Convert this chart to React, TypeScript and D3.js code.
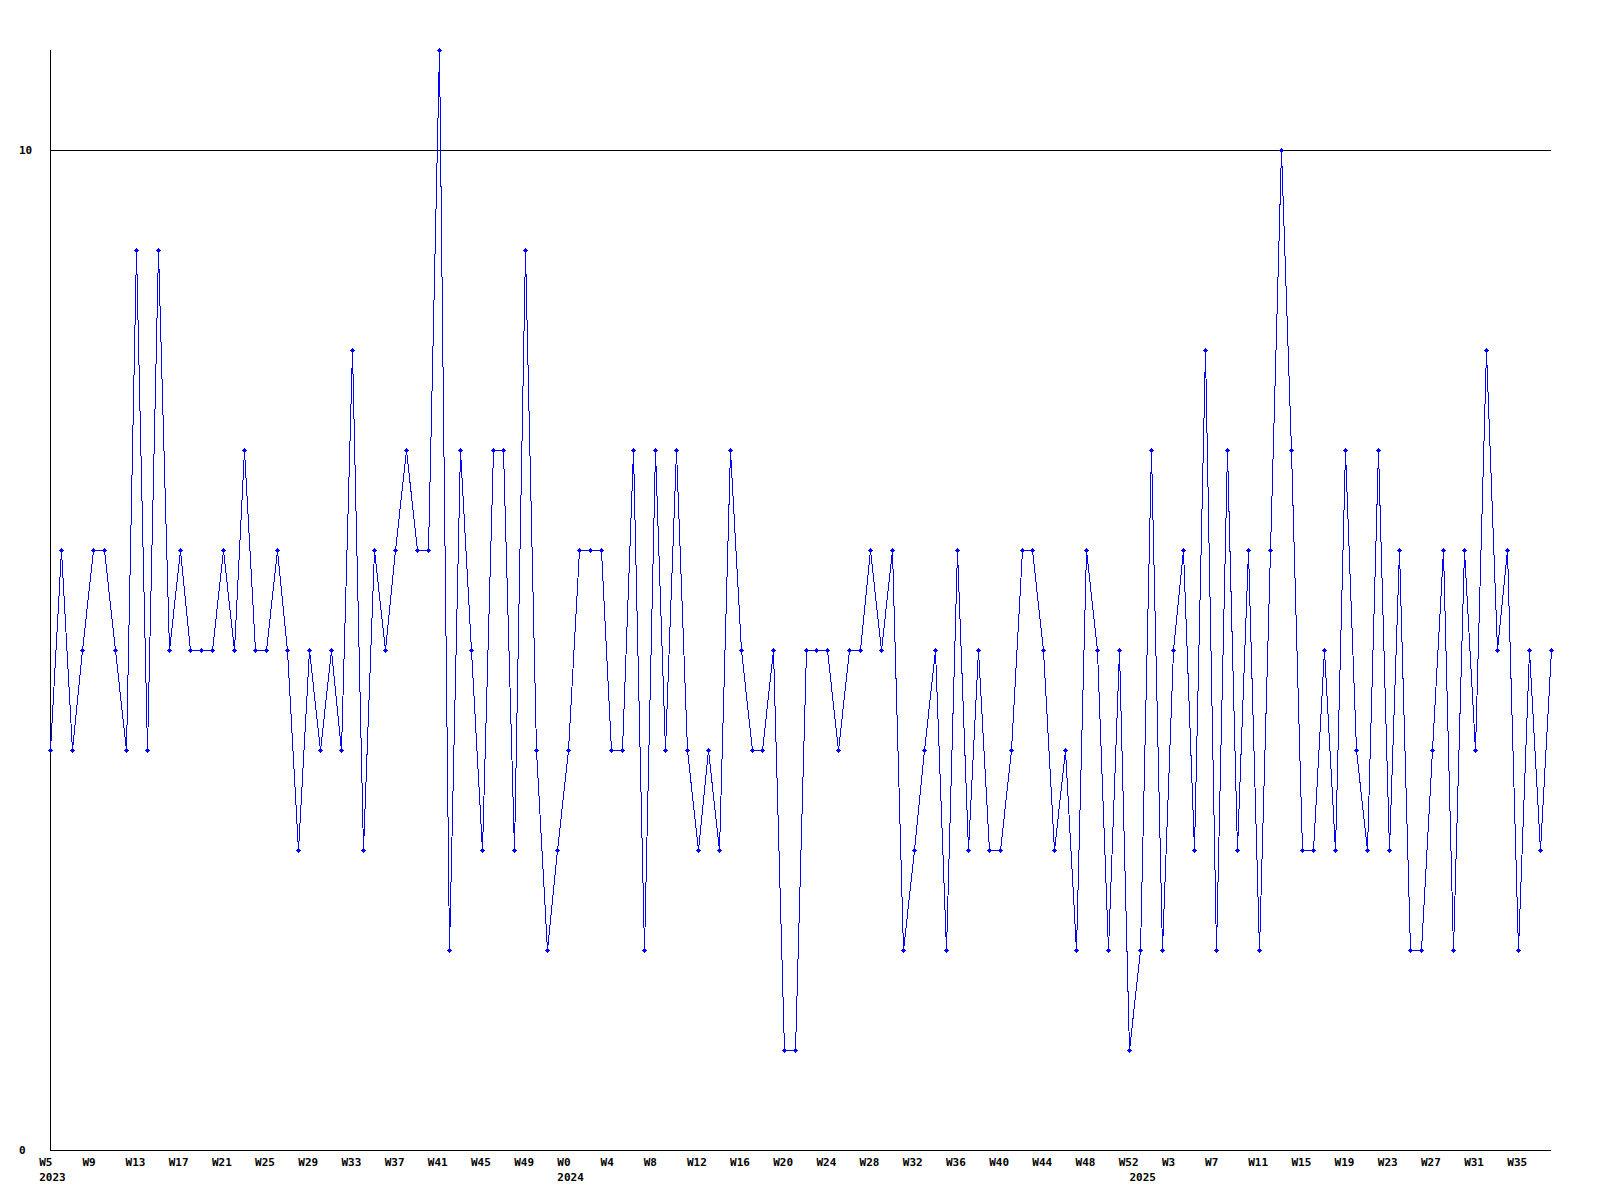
import React from "react";
import * as d3 from "d3";

// Weekly values, one per week (140 points)
const values: number[] = [
  4, 6, 4, 5, 6, 6, 5, 4, 9, 4, 9, 5, 6, 5, 5, 5, 6, 5, 7, 5,
  5, 6, 5, 3, 5, 4, 5, 4, 8, 3, 6, 5, 6, 7, 6, 6, 11, 2, 7, 5,
  3, 7, 7, 3, 9, 4, 2, 3, 4, 6, 6, 6, 4, 4, 7, 2, 7, 4, 7, 4,
  3, 4, 3, 7, 5, 4, 4, 5, 1, 1, 5, 5, 5, 4, 5, 5, 6, 5, 6, 2,
  3, 4, 5, 2, 6, 3, 5, 3, 3, 4, 6, 6, 5, 3, 4, 2, 6, 5, 2, 5,
  1, 2, 7, 2, 5, 6, 3, 8, 2, 7, 3, 6, 2, 6, 10, 7, 3, 3, 5, 3,
  7, 4, 3, 7, 3, 6, 2, 2, 4, 6, 2, 6, 4, 8, 5, 6, 2, 5, 3, 5,
];

// Week tick labels and the data index each one sits at
const weekLabels: string[] = [
  "W5", "W9", "W13", "W17", "W21", "W25", "W29", "W33", "W37", "W41", "W45", "W49",
  "W0", "W4", "W8", "W12", "W16", "W20", "W24", "W28", "W32", "W36", "W40", "W44", "W48",
  "W52", "W3", "W7", "W11", "W15", "W19", "W23", "W27", "W31", "W35",
];
const weekLabelIdx: number[] = [
  -1, 3, 7, 11, 15, 19, 23, 27, 31, 35, 39, 43,
  47, 51, 55, 59, 63, 67, 71, 75, 79, 83, 87, 91, 95,
  99, 103, 107, 111, 115, 119, 123, 127, 131, 135,
];
const yearLabels: string[] = ["2023", "2024", "2025"];
const yearLabelIdx: number[] = [-1, 47, 100];

const yTicks: number[] = [0, 10];
const gridValues: number[] = [10];

export default function App() {
  const W = 1600;
  const H = 1200;
  const left = 50;
  const right = 1550.5;
  const top = 50;
  const bottom = 1150;

  const x = d3.scaleLinear().domain([0, values.length - 1]).range([left, right]);
  const y = d3.scaleLinear().domain([0, 11]).range([bottom, top]);

  const line = d3
    .line<number>()
    .x((_, i) => Math.round(x(i)) + 0.5)
    .y((d) => Math.round(y(d)) + 0.5);

  const font = "'DejaVu Sans Mono', monospace";

  return (
    <svg
      width={W}
      height={H}
      style={{ position: "absolute", left: 0, top: 0, background: "#fff" }}
    >
      <rect x={0} y={0} width={W} height={H} fill="#fff" />
      {gridValues.map((g) => (
        <line
          key={"g" + g}
          x1={left}
          x2={right}
          y1={Math.round(y(g)) + 0.5}
          y2={Math.round(y(g)) + 0.5}
          stroke="#000"
          strokeWidth={1}
          shapeRendering="crispEdges"
        />
      ))}
      <line
        x1={left + 0.5}
        x2={left + 0.5}
        y1={top}
        y2={bottom + 1}
        stroke="#000"
        strokeWidth={1}
        shapeRendering="crispEdges"
      />
      <line
        x1={left}
        x2={right + 0.5}
        y1={bottom + 0.5}
        y2={bottom + 0.5}
        stroke="#000"
        strokeWidth={1}
        shapeRendering="crispEdges"
      />
      {yTicks.map((t) => (
        <text
          key={"yt" + t}
          x={19}
          y={y(t) + 4}
          fontFamily={font}
          fontWeight="bold"
          fontSize={11}
          fill="#000"
        >
          {t}
        </text>
      ))}
      {weekLabels.map((l, i) => (
        <text
          key={"wl" + i}
          x={x(weekLabelIdx[i])}
          y={bottom + 16}
          fontFamily={font}
          fontWeight="bold"
          fontSize={11}
          fill="#000"
        >
          {l}
        </text>
      ))}
      {yearLabels.map((l, i) => (
        <text
          key={"yl" + i}
          x={x(yearLabelIdx[i])}
          y={bottom + 31}
          fontFamily={font}
          fontWeight="bold"
          fontSize={11}
          fill="#000"
        >
          {l}
        </text>
      ))}
      <path
        d={line(values) || ""}
        fill="none"
        stroke="#0000ff"
        strokeWidth={1}
        shapeRendering="crispEdges"
      />
      {values.map((v, i) => {
        const cx = Math.round(x(i));
        const cy = Math.round(y(v));
        return (
          <g key={"m" + i} fill="#0000ff" shapeRendering="crispEdges">
            <rect x={cx - 2} y={cy} width={5} height={1} />
            <rect x={cx} y={cy - 2} width={1} height={5} />
            <rect x={cx - 1} y={cy - 1} width={3} height={3} />
          </g>
        );
      })}
    </svg>
  );
}
